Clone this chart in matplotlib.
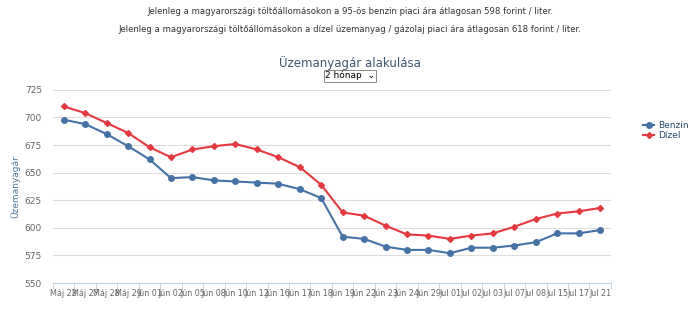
import matplotlib.pyplot as plt
import numpy as np

dates = ["Máj 22", "Máj 27", "Máj 28", "Máj 29", "Jún 01", "Jún 02", "Jún 05",
         "Jún 08", "Jún 10", "Jún 12", "Jún 16", "Jún 17", "Jún 18", "Jún 19",
         "Jún 22", "Jún 23", "Jún 24", "Jún 29", "Jul 01", "Jul 02", "Jul 03",
         "Jul 07", "Jul 08", "Jul 15", "Jul 17", "Jul 21"]
benzin = [698, 694, 685, 674, 662, 645, 646, 643, 642, 641, 640, 635, 627,
          592, 590, 583, 580, 580, 577, 582, 582, 584, 587, 595, 595, 598]
dizel = [710, 704, 695, 686, 673, 664, 671, 674, 676, 671, 664, 655, 639,
         614, 611, 602, 594, 593, 590, 593, 595, 601, 608, 613, 615, 618]

plt.rcParams['font.family'] = ['DejaVu Sans']

fig = plt.figure(figsize=(7, 3.1), dpi=100)
fig.patch.set_facecolor("white")

# header text
fig.text(0.5, 0.962, "Jelenleg a magyarországi töltőállomásokon a 95-ös benzin piaci ára átlagosan 598 forint / liter.",
         ha="center", va="center", fontsize=6.1, color="#333333")
fig.text(0.5, 0.905, "Jelenleg a magyarországi töltőállomásokon a dízel üzemanyag / gázolaj piaci ára átlagosan 618 forint / liter.",
         ha="center", va="center", fontsize=6.1, color="#333333")
fig.text(0.5, 0.797, "Üzemanyagár alakulása", ha="center", va="center",
         fontsize=8.5, color="#3E576F")
fig.text(0.5, 0.756, "2 hónap  ⌄", ha="center", va="center", fontsize=6.5, color="#000000",
         bbox=dict(boxstyle="square,pad=0.15", fc="white", ec="#888888", lw=0.7))

ax = fig.add_axes([0.0757, 0.087, 0.797, 0.623])
x = np.arange(len(dates))

ax.plot(x, benzin, color="#4572A7", marker="o", markersize=4, linewidth=1.5, label="Benzin")
ax.plot(x, dizel, color="#E8383D", marker="D", markersize=3, linewidth=1.5, label="Dízel")

ax.set_xlim(-0.5, len(dates) - 0.5)
ax.set_ylim(550, 725)
ax.set_yticks(np.arange(550, 726, 25))
ax.grid(axis="y", color="#DDDDDD", linewidth=0.8)
ax.set_axisbelow(True)

ax.set_xticks(x)
ax.set_xticklabels(dates, fontsize=5.8, color="#666666")
ax.set_xticks(np.arange(-0.5, len(dates), 1), minor=True)
ax.tick_params(axis="x", which="major", length=0, pad=4)
ax.tick_params(axis="x", which="minor", length=4, color="#C0D0E0")
ax.tick_params(axis="y", length=0, labelsize=6.5, labelcolor="#666666", pad=8)

for s in ["top", "right", "left"]:
    ax.spines[s].set_visible(False)
ax.spines["bottom"].set_color("#C0D0E0")

ax.set_ylabel("Üzemanyagár", fontsize=6.5, color="#4D759E", labelpad=3)

ax.legend(loc="upper left", bbox_to_anchor=(1.05, 0.86), frameon=False,
          fontsize=6.5, handlelength=1.2, borderpad=0, labelspacing=0.1,
          handletextpad=0.4, labelcolor="#274B6D")

fig.savefig("out.png", dpi=100)
